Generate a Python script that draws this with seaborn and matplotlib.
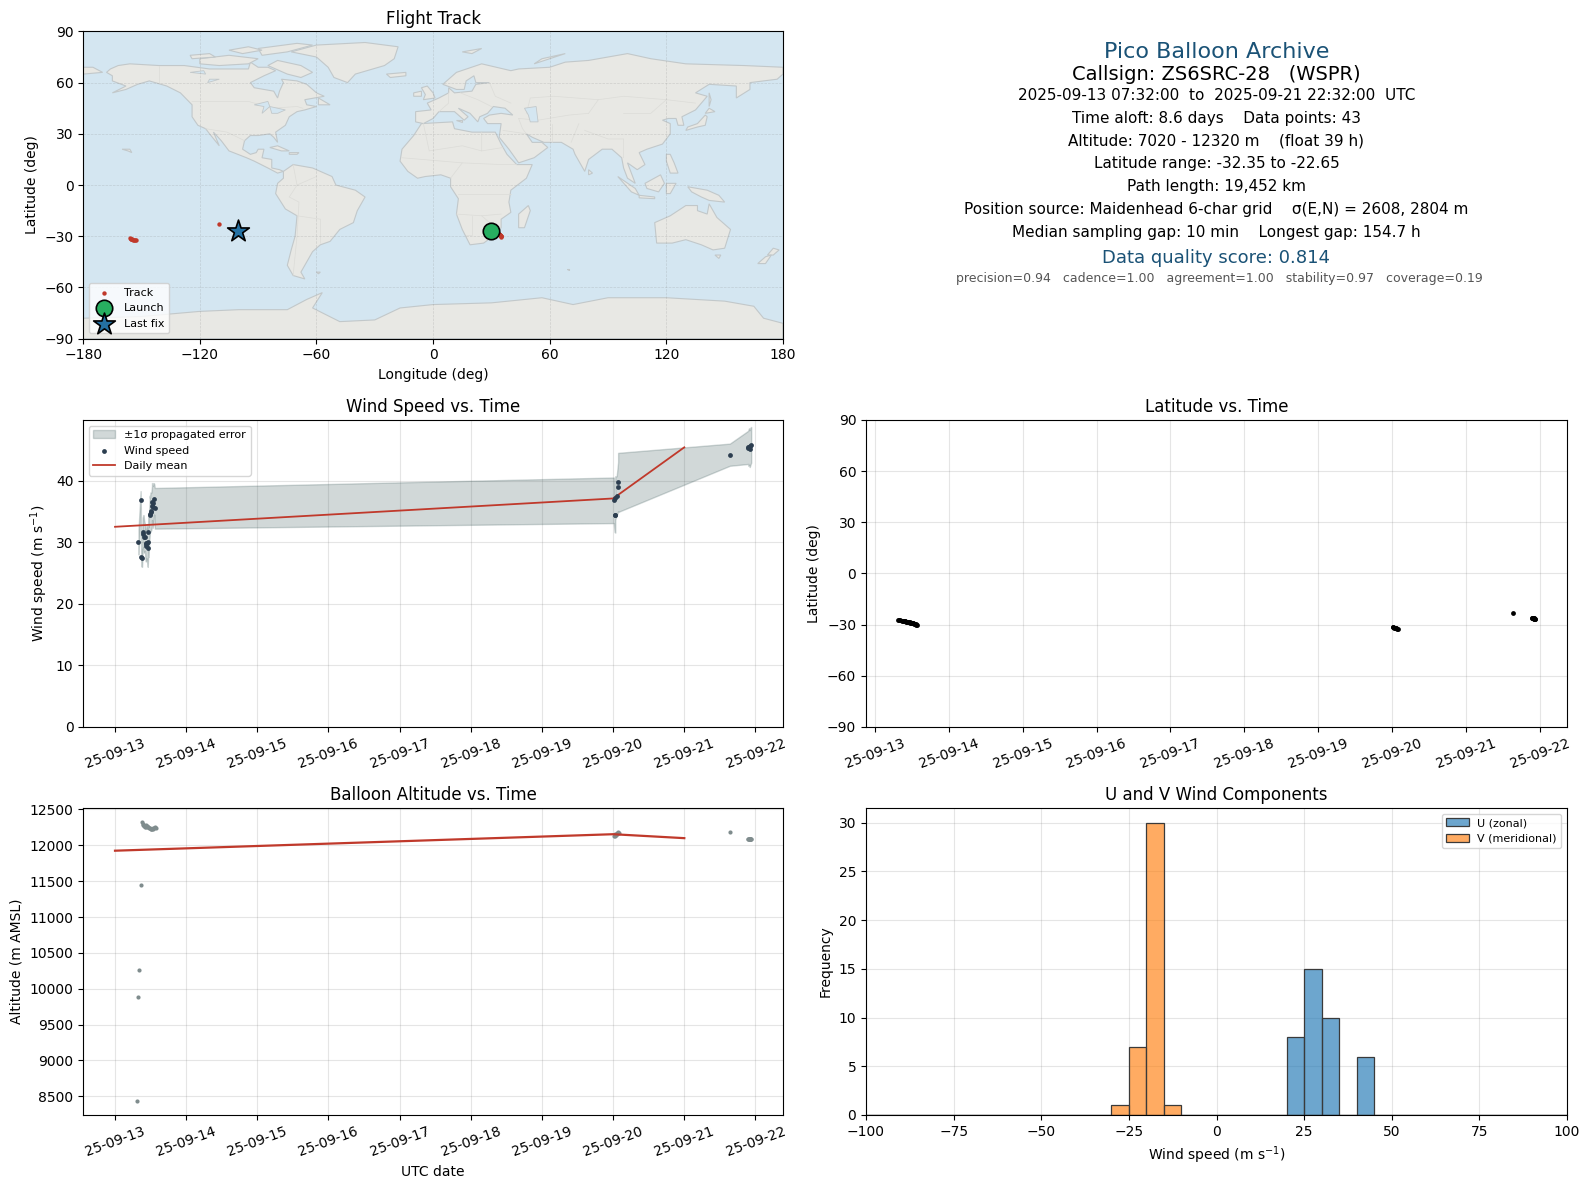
import numpy as np
import pandas as pd
import seaborn as sns
import matplotlib
matplotlib.use("Agg")
import matplotlib.pyplot as plt
import matplotlib.dates as mdates

# position fixes, decimal day of september 2025
pos_day = [13.31, 13.32, 13.34, 13.36, 13.38, 13.39, 13.40, 13.41, 13.42, 13.43, 13.44, 13.45,
           13.46, 13.47, 13.48, 13.49, 13.50, 13.51, 13.52, 13.53, 13.54, 13.55, 13.56, 13.57,
           20.01, 20.02, 20.03, 20.04, 20.05, 20.06, 20.07, 20.08,
           21.64,
           21.90, 21.90, 21.91, 21.91, 21.92, 21.92, 21.93, 21.93, 21.94, 21.94]
pos_lat = [-27.1, -27.2, -27.4, -27.6, -27.8, -27.9, -28.0, -28.1, -28.2, -28.3, -28.4, -28.5,
           -28.6, -28.7, -28.8, -28.9, -29.0, -29.1, -29.3, -29.5, -29.7, -29.9, -30.0, -30.2,
           -31.3, -31.5, -31.7, -31.8, -32.0, -32.1, -32.3, -32.4,
           -23.0,
           -25.9, -26.0, -26.1, -26.1, -26.2, -26.3, -26.4, -26.5, -26.6, -26.7]
pos_lon = [29.8, 30.6, 31.0, 31.4, 31.8, 32.0, 32.2, 32.4, 32.6, 32.8, 33.0, 33.2,
           33.4, 33.6, 33.8, 34.0, 34.2, 34.4, 34.5, 34.6, 34.7, 34.8, 34.9, 35.0,
           -156.0, -155.6, -155.2, -154.8, -154.4, -154.0, -153.5, -153.0,
           -110.0,
           -101.3, -101.2, -101.1, -101.0, -100.9, -100.8, -100.7, -100.6, -100.5, -100.4]
alt_m = [8433, 9884, 10260, 11447, 12326, 12300, 12288, 12270, 12256, 12250, 12288, 12270,
         12255, 12260, 12245, 12240, 12232, 12228, 12223, 12225, 12235, 12240, 12251, 12245,
         12126, 12130, 12153, 12150, 12160, 12165, 12181, 12178,
         12181,
         12084, 12084, 12085, 12084, 12086, 12084, 12085, 12084, 12086, 12084]

# wind, 39 samples
wind_day = [13.33, 13.36, 13.37, 13.38, 13.39, 13.40, 13.41, 13.42, 13.43, 13.44, 13.44, 13.45,
            13.46, 13.47, 13.47, 13.49, 13.49, 13.50, 13.51, 13.52, 13.52, 13.53, 13.54, 13.55, 13.56,
            20.01, 20.02, 20.03, 20.03, 20.05, 20.07, 20.07,
            21.64,
            21.90, 21.90, 21.91, 21.92, 21.93, 21.94]
wind_spd = [30.0, 36.9, 27.6, 27.5, 31.6, 31.4, 30.9, 30.8, 29.4, 29.7, 29.8, 29.9,
            29.0, 31.7, 30.0, 34.6, 34.4, 34.9, 35.0, 35.9, 36.6, 35.75, 36.4, 37.0, 35.5,
            36.8, 34.35, 34.35, 37.2, 37.5, 39.0, 39.7,
            44.2,
            45.4, 45.3, 45.5, 45.2, 45.6, 45.8]
wind_sig = [2.0, 1.4, 1.5, 1.5, 2.4, 3.0, 2.6, 2.2, 2.5, 2.8, 2.4, 3.0,
            3.0, 2.6, 2.4, 3.0, 2.8, 3.2, 3.0, 3.2, 3.0, 3.4, 3.2, 2.5, 3.3,
            3.7, 2.7, 2.8, 3.5, 3.2, 4.0, 4.8,
            1.8,
            2.7, 2.9, 3.0, 3.0, 3.0, 2.9]

# daily means
mean_day = [13.0, 20.0, 21.0]
mean_wind = [32.5, 37.1, 45.4]
mean_alt = [11925, 12155, 12100]

# histograms, 5 m/s bins
hist_edges = list(range(-100, 105, 5))
u_centres = [22.5, 27.5, 32.5, 42.5]
u_counts = [8, 15, 10, 6]
v_centres = [-27.5, -22.5, -17.5, -12.5]
v_counts = [1, 7, 30, 1]

launch_lon, launch_lat = 29.8, -27.1
last_lon, last_lat = -100.4, -26.7

info_lines = ["2025-09-13 07:32:00  to  2025-09-21 22:32:00  UTC",
              "Time aloft: 8.6 days    Data points: 43",
              "Altitude: 7020 - 12320 m    (float 39 h)",
              "Latitude range: -32.35 to -22.65",
              "Path length: 19,452 km",
              "Position source: Maidenhead 6-char grid    \u03c3(E,N) = 2608, 2804 m",
              "Median sampling gap: 10 min    Longest gap: 154.7 h"]
info_y = [0.793, 0.717, 0.644, 0.569, 0.494, 0.422, 0.347]

# rough coastlines (lon, lat)
north_america = [(-168, 66), (-166, 68), (-162, 70), (-156, 71), (-141, 70), (-128, 70), (-115, 68), (-108, 68), (-95, 68),
                 (-94, 72), (-90, 69), (-85, 69), (-81, 67), (-87, 64), (-94, 60), (-92, 57), (-82, 55), (-80, 51), (-79, 55),
                 (-77, 60), (-78, 62), (-70, 61), (-65, 59), (-60, 54), (-56, 52), (-66, 50), (-65, 47), (-60, 46),
                 (-66, 44), (-70, 43), (-74, 40), (-76, 35), (-81, 31), (-80, 25), (-82, 28), (-84, 30), (-90, 29),
                 (-94, 29), (-97, 26), (-98, 21), (-94, 18), (-91, 19), (-90, 21), (-87, 21), (-88, 16), (-83, 15),
                 (-83, 10), (-79, 9), (-77, 8), (-80, 7), (-85, 10), (-92, 14), (-96, 16), (-105, 20), (-109, 26),
                 (-113, 31), (-110, 23), (-115, 30), (-117, 33), (-121, 35), (-124, 40), (-124, 47), (-130, 54),
                 (-137, 58), (-146, 61), (-152, 59), (-158, 56), (-165, 54), (-158, 58), (-165, 61), (-165, 64)]
greenland = [(-73, 78), (-60, 82), (-35, 83.5), (-18, 81), (-20, 74), (-25, 70), (-40, 65), (-44, 60), (-51, 63),
             (-54, 69), (-60, 75)]
arctic_islands = [[(-120, 74), (-105, 76), (-90, 74), (-95, 71), (-110, 70), (-120, 71)],
                  [(-90, 80), (-70, 83), (-62, 82), (-75, 78), (-88, 76)],
                  [(-80, 73), (-68, 70), (-62, 66), (-68, 63), (-75, 65), (-85, 70)],
                  [(-125, 76), (-115, 77), (-112, 75), (-124, 74)],
                  [(-105, 79), (-95, 81), (-88, 79), (-98, 77)],
                  [(-59, 51), (-53, 47), (-59, 47)]]
south_america = [(-77, 8), (-72, 12), (-62, 10), (-52, 5), (-50, 0), (-40, -3), (-35, -7), (-39, -15), (-41, -22),
                 (-48, -26), (-53, -33), (-58, -35), (-62, -39), (-65, -45), (-68, -51), (-66, -55), (-72, -53),
                 (-75, -47), (-73, -38), (-71, -30), (-70, -18), (-76, -14), (-81, -5), (-80, 1), (-77, 4)]
africa = [(-6, 36), (10, 37), (11, 33), (20, 31), (32, 31), (35, 24), (38, 18), (43, 12), (51, 12), (48, 4), (40, -3),
          (39, -10), (40, -16), (35, -20), (35, -25), (32, -29), (26, -34), (19, -35), (15, -26), (12, -17), (13, -8),
          (9, -1), (9, 4), (4, 6), (-4, 5), (-8, 4), (-13, 8), (-17, 14), (-16, 21), (-10, 29)]
eurasia = [(-9, 37), (-9, 43), (-1, 44), (-3, 48), (3, 51), (8, 54), (8, 57), (11, 54), (20, 55), (22, 59), (29, 60),
           (22, 60), (21, 64), (17, 61), (16, 56), (12, 56), (5, 59), (12, 66), (25, 71), (40, 67), (44, 68), (60, 69),
           (68, 72), (80, 73), (100, 77), (112, 74), (130, 71), (160, 70), (180, 69), (180, 65), (177, 62), (163, 60),
           (163, 56), (156, 51), (156, 58), (142, 59), (135, 54), (141, 52), (135, 44), (128, 40), (129, 35), (126, 35),
           (125, 39), (121, 39), (118, 38), (122, 36), (122, 30), (118, 24), (110, 21), (106, 19), (109, 12), (105, 9),
           (100, 13), (104, 1), (100, 4), (98, 10), (97, 16), (92, 21), (87, 21), (80, 15), (78, 8), (73, 18), (72, 21),
           (66, 25), (57, 25), (51, 28), (48, 30), (51, 25), (56, 25), (59, 22), (52, 16), (44, 13), (39, 21), (34, 28),
           (35, 36), (28, 36), (26, 39), (29, 41), (35, 42), (41, 41), (37, 45), (31, 46), (28, 42), (24, 40), (23, 37),
           (19, 42), (13, 45), (18, 40), (16, 38), (11, 43), (3, 43), (0, 39), (-5, 36)]
eurasia_east_tip = [(-180, 65), (-170, 66), (-175, 69), (-180, 69)]
australia = [(114, -22), (122, -18), (130, -12), (136, -12), (136, -15), (141, -17), (142, -11), (146, -19), (153, -26),
             (150, -37), (144, -38), (138, -35), (130, -32), (123, -34), (115, -34)]
antarctica = [(-180, -78), (-150, -77), (-120, -74), (-100, -73), (-75, -73), (-65, -67), (-57, -63), (-62, -72),
              (-48, -80), (-30, -79), (-17, -72), (0, -70), (30, -69), (56, -66), (72, -70), (90, -66), (120, -66), (150, -68),
              (165, -71), (170, -78), (180, -81), (180, -90), (-180, -90)]
islands = [[(44, -25), (47, -25), (50, -15), (49, -12), (44, -17)],
           [(-5, 50), (1, 51), (0, 54), (-3, 58), (-6, 57), (-4, 53)],
           [(-10, 52), (-6, 52), (-6, 55), (-10, 54)],
           [(-24, 65), (-14, 66), (-14, 64), (-22, 63)],
           [(130, 32), (136, 34), (140, 35), (141, 40), (140, 41), (136, 36), (131, 34)],
           [(140, 42), (145, 43), (142, 45)],
           [(95, 5), (104, -2), (106, -6), (102, -4)],
           [(109, 1), (117, 6), (119, 1), (116, -4), (110, -2)],
           [(106, -6), (114, -7), (114, -8), (106, -7.5)],
           [(120, 1), (125, 1), (122, -5), (120, -5)],
           [(131, -1), (141, -3), (147, -6), (150, -10), (142, -9), (138, -7), (133, -4)],
           [(120, 18), (122, 18), (124, 13), (126, 7), (122, 7), (120, 14)],
           [(80, 9), (82, 7), (80, 6)],
           [(172, -41), (175, -37), (178, -38), (175, -41)],
           [(167, -46), (171, -46), (174, -41), (171, -42)],
           [(145, -41), (148, -41), (147, -43)],
           [(-84, 22), (-80, 23), (-74, 20), (-78, 20)],
           [(-74, 19), (-69, 19), (-70, 18), (-74, 18)],
           [(12, 38), (15, 38), (15, 37)],
           [(15, 78), (25, 80), (20, 77)],
           [(52, 71), (68, 77), (56, 74)],
           [(-60, -51), (-58, -51), (-59, -52)],
           [(69, -49), (70, -49), (70, -50)],
           [(-160, 21), (-156, 21), (-155, 19), (-157, 20)],
           [(142, 54), (143, 50), (142, 46)]]
lakes = [[(-92, 47), (-85, 49), (-84, 46), (-88, 42), (-87, 46)],
         [(-84, 46), (-80, 45), (-76, 44), (-80, 42), (-83, 42)],
         [(47, 45), (53, 46), (54, 37), (50, 37), (49, 41)],
         [(-125, 66), (-118, 67), (-117, 65)], [(-115, 62), (-110, 62), (-116, 60)]]
borders = [[(-141, 70), (-141, 60)], [(-124, 49), (-95, 49), (-83, 45), (-70, 46), (-67, 45)],
           [(-117, 33), (-106, 31), (-97, 26)],
           [(-70, -18), (-58, -20), (-58, -34)], [(-72, -53), (-70, -30), (-69, -10), (-74, -7), (-70, 0), (-60, 5)],
           [(-70, 0), (-72, 12)],
           [(-5, 36), (-2, 20), (15, 23), (25, 20), (25, 31)], [(25, 20), (36, 22)], [(-16, 16), (15, 13), (35, 12), (43, 12)],
           [(9, 4), (15, 13)], [(13, -5), (30, -5), (40, -5)], [(12, -17), (25, -18), (35, -17)], [(20, -18), (20, -29), (17, -29)],
           [(25, -18), (32, -25)],
           [(3, 43), (8, 48), (8, 54)], [(14, 54), (23, 50), (30, 46)], [(29, 60), (32, 52), (40, 48)],
           [(48, 42), (50, 51), (62, 52), (85, 50), (98, 52), (120, 50), (135, 48)],
           [(80, 42), (70, 41), (54, 38), (44, 39)], [(61, 36), (61, 25)], [(75, 36), (71, 25)], [(78, 32), (90, 27), (98, 27), (98, 16)],
           [(85, 50), (80, 42)], [(98, 42), (112, 42), (120, 50)], [(36, 32), (48, 30)], [(44, 39), (46, 33), (48, 30)]]

land_polys = [north_america, greenland, south_america, africa, eurasia, eurasia_east_tip, australia, antarctica] + arctic_islands + islands


def to_dates(days):
    return pd.Timestamp("2025-09-01") + pd.to_timedelta(np.array(days) - 1, unit="D")


W, H = 1589, 1189
def pane(x0, y0, x1, y1):
    return fig.add_axes([x0 / W, 1 - y1 / H, (x1 - x0) / W, (y1 - y0) / H])


pos = pd.DataFrame({"t": to_dates(pos_day), "lat": pos_lat, "lon": pos_lon, "alt": alt_m})
wind = pd.DataFrame({"t": to_dates(wind_day), "spd": wind_spd, "sig": wind_sig})
daily = pd.DataFrame({"t": to_dates(mean_day), "wind": mean_wind, "alt": mean_alt})

fig = plt.figure(figsize=(W / 100, H / 100), dpi=100)
ax_map = pane(83.2, 31.4, 783, 338.7)
ax_txt = pane(866, 31.4, 1567, 338.7)
ax_wind = pane(83.2, 420, 783, 727)
ax_lat = pane(866, 420, 1567, 727)
ax_alt = pane(83.2, 808, 783, 1115)
ax_hist = pane(866, 808, 1567, 1115)

#map
ax_map.set_facecolor("#d4e6f1")
for poly in land_polys:
    xs, ys = zip(*poly)
    ax_map.fill(xs, ys, facecolor="#e8e8e4", edgecolor="#c2c8ca", linewidth=0.8, zorder=1)
for poly in lakes:
    xs, ys = zip(*poly)
    ax_map.fill(xs, ys, facecolor="#d4e6f1", edgecolor="#c2c8ca", linewidth=0.6, zorder=1.2)
for line in borders:
    xs, ys = zip(*line)
    ax_map.plot(xs, ys, color="#dcdcd8", linewidth=0.5, zorder=1.1)
sns.scatterplot(data=pos, x="lon", y="lat", ax=ax_map, color="#c0392b", s=10, linewidth=0, label="Track", zorder=3)
ax_map.scatter([launch_lon], [launch_lat], s=140, color="#27ae60", edgecolor="black", linewidth=1.2, label="Launch", zorder=4)
ax_map.scatter([last_lon], [last_lat], s=270, marker="*", color="#2471a3", edgecolor="black", linewidth=1.2, label="Last fix", zorder=4)
ax_map.set_xlim(-180, 180)
ax_map.set_ylim(-90, 90)
ax_map.set_xticks(range(-180, 181, 60))
ax_map.set_yticks(range(-90, 91, 30))
ax_map.grid(True, color="gray", alpha=0.25, linewidth=0.5, linestyle="--", zorder=2)
ax_map.set_title("Flight Track", pad=5)
ax_map.set_xlabel("Longitude (deg)")
ax_map.set_ylabel("Latitude (deg)")
ax_map.legend(loc="lower left", fontsize=8)

#summary text
ax_txt.axis("off")
ax_txt.text(0.5, 0.933, "Pico Balloon Archive", ha="center", va="center", fontsize=16, color="#1a5276")
ax_txt.text(0.5, 0.86, "Callsign: ZS6SRC-28   (WSPR)", ha="center", va="center", fontsize=14)
for txt, y in zip(info_lines, info_y):
    ax_txt.text(0.5, y, txt, ha="center", va="center", fontsize=11)
ax_txt.text(0.5, 0.264, "Data quality score: 0.814", ha="center", va="center", fontsize=13, color="#1a5276")
ax_txt.text(0.504, 0.197, "precision=0.94   cadence=1.00   agreement=1.00   stability=0.97   coverage=0.19",
            ha="center", va="center", fontsize=9, color="#555555")

#wind speed
ax_wind.fill_between(wind["t"], wind["spd"] - wind["sig"], wind["spd"] + wind["sig"], color="#2f4f4f", alpha=0.22,
                     label="\u00b11\u03c3 propagated error")
sns.scatterplot(data=wind, x="t", y="spd", ax=ax_wind, color="#2c3e50", s=12, linewidth=0, label="Wind speed", zorder=3)
sns.lineplot(data=daily, x="t", y="wind", ax=ax_wind, color="#c0392b", linewidth=1.3, label="Daily mean", errorbar=None)
ax_wind.set_ylim(bottom=0)
ax_wind.set_title("Wind Speed vs. Time")
ax_wind.set_xlabel("")
ax_wind.set_ylabel("Wind speed (m s$^{-1}$)")
ax_wind.legend(loc="upper left", fontsize=8)

#latitude
sns.scatterplot(data=pos, x="t", y="lat", ax=ax_lat, color="black", s=12, linewidth=0)
ax_lat.set_ylim(-90, 90)
ax_lat.set_yticks(range(-90, 91, 30))
ax_lat.set_title("Latitude vs. Time")
ax_lat.set_xlabel("")
ax_lat.set_ylabel("Latitude (deg)")

#altitude
sns.scatterplot(data=pos, x="t", y="alt", ax=ax_alt, color="#7f8c8d", s=9, linewidth=0)
sns.lineplot(data=daily, x="t", y="alt", ax=ax_alt, color="#c0392b", linewidth=1.6, errorbar=None)
ax_alt.set_title("Balloon Altitude vs. Time")
ax_alt.set_xlabel("UTC date")
ax_alt.set_ylabel("Altitude (m AMSL)")

for ax in [ax_wind, ax_lat, ax_alt]:
    ax.xaxis.set_major_locator(mdates.DayLocator())
    ax.xaxis.set_major_formatter(mdates.DateFormatter("%y-%m-%d"))
    ax.tick_params(axis="x", rotation=20)
    ax.grid(True, color="gray", alpha=0.2)
    ax.set_axisbelow(True)

#u v histogram
sns.histplot(x=u_centres, weights=u_counts, bins=hist_edges, ax=ax_hist, color="#1f77b4", alpha=0.65,
             edgecolor="#3a3a3a", linewidth=0.9, label="U (zonal)")
sns.histplot(x=v_centres, weights=v_counts, bins=hist_edges, ax=ax_hist, color="#ff7f0e", alpha=0.65,
             edgecolor="#3a3a3a", linewidth=0.9, label="V (meridional)")
ax_hist.set_xlim(-100, 100)
ax_hist.set_title("U and V Wind Components")
ax_hist.set_xlabel("Wind speed (m s$^{-1}$)")
ax_hist.set_ylabel("Frequency")
ax_hist.grid(True, color="gray", alpha=0.2)
ax_hist.set_axisbelow(True)
ax_hist.legend(loc="upper right", fontsize=8)

fig.savefig("out.png", dpi=100)
